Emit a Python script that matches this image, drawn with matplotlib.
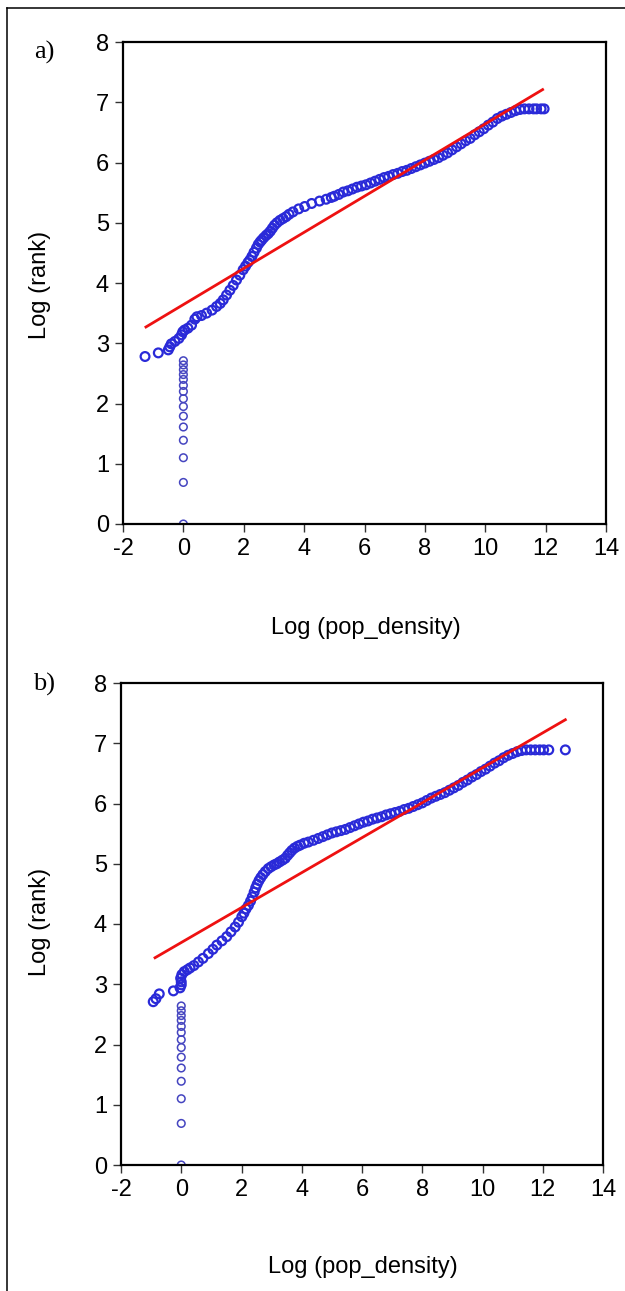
import matplotlib
matplotlib.use("Agg")
import matplotlib.pyplot as plt
from matplotlib.lines import Line2D

plt.rcParams['font.family'] = ['Liberation Sans', 'DejaVu Sans']
plt.rcParams['axes.unicode_minus'] = False

# panel a) points
a_col_y = [0.0, 0.69, 1.10, 1.39, 1.61, 1.79, 1.95, 2.08, 2.20, 2.30, 2.40, 2.48, 2.56, 2.64, 2.71]
a_x = [-1.27, -0.83, -0.50, -0.45, -0.40, -0.28, -0.15, -0.06, -0.02, 0.04, 0.15, 0.27, 0.38, 0.45,
       0.60, 0.77, 0.95, 1.10, 1.22, 1.32, 1.43, 1.54, 1.65, 1.76, 1.87,
       1.98, 2.06, 2.14, 2.20, 2.27, 2.34, 2.42, 2.48, 2.54, 2.59, 2.66, 2.74, 2.81, 2.88, 2.95,
       3.02, 3.10, 3.20, 3.30, 3.40, 3.50, 3.63, 3.82, 4.02, 4.25, 4.51, 4.73, 4.90,
       5.00, 5.15, 5.30, 5.45, 5.60, 5.75, 5.90, 6.05, 6.20, 6.35, 6.50, 6.65, 6.80, 6.95,
       7.10, 7.25, 7.40, 7.55, 7.70, 7.85, 8.00, 8.15, 8.30, 8.45, 8.60, 8.75, 8.90, 9.05,
       9.20, 9.35, 9.50, 9.65, 9.80, 9.95, 10.10, 10.25, 10.40, 10.55, 10.70, 10.85, 11.00,
       11.15, 11.30, 11.45, 11.60, 11.70, 11.85, 11.95]
a_y = [2.78, 2.84, 2.89, 2.94, 2.99, 3.03, 3.08, 3.14, 3.19, 3.22, 3.25, 3.30, 3.40, 3.44,
       3.46, 3.50, 3.55, 3.61, 3.66, 3.72, 3.80, 3.88, 3.96, 4.05, 4.13,
       4.22, 4.28, 4.34, 4.38, 4.44, 4.51, 4.58, 4.64, 4.68, 4.71, 4.75, 4.79, 4.82, 4.86, 4.91,
       4.96, 5.00, 5.04, 5.07, 5.10, 5.14, 5.18, 5.23, 5.27, 5.32, 5.36, 5.39, 5.42,
       5.44, 5.47, 5.51, 5.53, 5.56, 5.59, 5.61, 5.63, 5.66, 5.69, 5.72, 5.75, 5.77, 5.80,
       5.82, 5.85, 5.87, 5.90, 5.93, 5.96, 5.99, 6.02, 6.05, 6.08, 6.12, 6.16, 6.21, 6.26,
       6.31, 6.36, 6.40, 6.46, 6.51, 6.56, 6.62, 6.67, 6.73, 6.77, 6.80, 6.83, 6.86,
       6.88, 6.89, 6.89, 6.89, 6.89, 6.89, 6.89]
a_fit_x = [-1.24, 11.9]
a_fit_y = [3.27, 7.21]

# panel b)
b_col_y = [0.0, 0.69, 1.10, 1.39, 1.61, 1.79, 1.95, 2.08, 2.20, 2.30, 2.40, 2.48, 2.56, 2.64]
b_x = [-0.93, -0.84, -0.73, -0.26, -0.04, 0.0, 0.0, -0.02, 0.02,
       0.10, 0.20, 0.29, 0.42, 0.57, 0.72, 0.90, 1.05, 1.18, 1.35, 1.51, 1.65, 1.79, 1.90, 2.01,
       2.08, 2.15, 2.23, 2.30, 2.36, 2.42, 2.47, 2.52, 2.58, 2.64, 2.71, 2.79, 2.89, 2.98, 3.08,
       3.17, 3.26, 3.36, 3.45, 3.53, 3.60, 3.67, 3.76, 3.86, 3.95, 4.08, 4.22, 4.39, 4.55, 4.70, 4.85,
       5.00, 5.15, 5.30, 5.45, 5.60, 5.75, 5.90, 6.05, 6.20, 6.35, 6.50, 6.65, 6.80, 6.95,
       7.10, 7.25, 7.40, 7.55, 7.70, 7.85, 8.00, 8.15, 8.30, 8.45, 8.60, 8.75, 8.90, 9.05,
       9.20, 9.35, 9.50, 9.65, 9.80, 9.95, 10.10, 10.25, 10.40, 10.55, 10.70, 10.85, 11.00,
       11.15, 11.30, 11.45, 11.60, 11.75, 11.90, 12.03, 12.20, 12.75]
b_y = [2.71, 2.76, 2.84, 2.89, 2.94, 2.99, 3.04, 3.10, 3.16,
       3.21, 3.24, 3.27, 3.31, 3.37, 3.43, 3.51, 3.58, 3.65, 3.72, 3.79, 3.87, 3.95, 4.03, 4.12,
       4.18, 4.25, 4.31, 4.38, 4.45, 4.53, 4.60, 4.66, 4.72, 4.77, 4.82, 4.87, 4.92, 4.95, 4.98,
       5.00, 5.03, 5.06, 5.09, 5.14, 5.18, 5.22, 5.26, 5.29, 5.31, 5.34, 5.36, 5.39, 5.42, 5.45, 5.48,
       5.51, 5.53, 5.55, 5.57, 5.60, 5.63, 5.66, 5.69, 5.71, 5.74, 5.76, 5.78, 5.81, 5.83,
       5.85, 5.87, 5.90, 5.92, 5.95, 5.98, 6.01, 6.05, 6.09, 6.12, 6.15, 6.18, 6.22, 6.26,
       6.30, 6.35, 6.39, 6.44, 6.48, 6.53, 6.57, 6.62, 6.67, 6.71, 6.76, 6.80, 6.83,
       6.86, 6.88, 6.89, 6.89, 6.89, 6.89, 6.89, 6.89, 6.89]
b_fit_x = [-0.87, 12.75]
b_fit_y = [3.44, 7.39]

x_ticks = [-2, 0, 2, 4, 6, 8, 10, 12, 14]
y_ticks = [0, 1, 2, 3, 4, 5, 6, 7, 8]

W, H = 625, 1291
fig = plt.figure(figsize=(W / 100, H / 100), dpi=100)


def panel(rect, col_y, xs, ys, fit_x, fit_y):
    ax = fig.add_axes(rect)
    ax.scatter([0.0] * len(col_y), col_y, s=30, facecolors='none', edgecolors='#4545c0', linewidths=1.1, zorder=2)
    ax.scatter(xs, ys, s=40, facecolors='none', edgecolors='#2a2ad8', linewidths=1.6, zorder=2)
    ax.plot(fit_x, fit_y, color='#ee1111', lw=2.0, zorder=3)
    ax.set_xlim(-2, 14)
    ax.set_ylim(0, 8)
    ax.set_xticks(x_ticks)
    ax.set_yticks(y_ticks)
    ax.tick_params(direction='out', length=6, width=1, labelsize=17, pad=4, color='#333333')
    for sp in ax.spines.values():
        sp.set_linewidth(1.6)
        sp.set_color('black')
    return ax


panel([123 / W, 1 - 524 / H, 483 / W, 482 / H], a_col_y, a_x, a_y, a_fit_x, a_fit_y)
panel([121 / W, 1 - 1165 / H, 482 / W, 482 / H], b_col_y, b_x, b_y, b_fit_x, b_fit_y)

fig.text(366 / W, 1 - 628 / H, 'Log (pop_density)', fontsize=17, ha='center', va='center')
fig.text(363 / W, 1 - 1267 / H, 'Log (pop_density)', fontsize=17, ha='center', va='center')
fig.text(40 / W, 1 - 285 / H, 'Log (rank)', fontsize=17, ha='center', va='center', rotation=90)
fig.text(40 / W, 1 - 922 / H, 'Log (rank)', fontsize=17, ha='center', va='center', rotation=90)
fig.text(44 / W, 1 - 52 / H, 'a)', fontsize=19, family='Liberation Serif', ha='center', va='center')
fig.text(44 / W, 1 - 684 / H, 'b)', fontsize=19, family='Liberation Serif', ha='center', va='center')

# frame lines round the figure (top and left)
fig.add_artist(Line2D([7 / W, 1], [1 - 8 / H, 1 - 8 / H], color='black', lw=1.1))
fig.add_artist(Line2D([7 / W, 7 / W], [0, 1 - 8 / H], color='black', lw=1.1))

fig.savefig('out.png', dpi=100)
